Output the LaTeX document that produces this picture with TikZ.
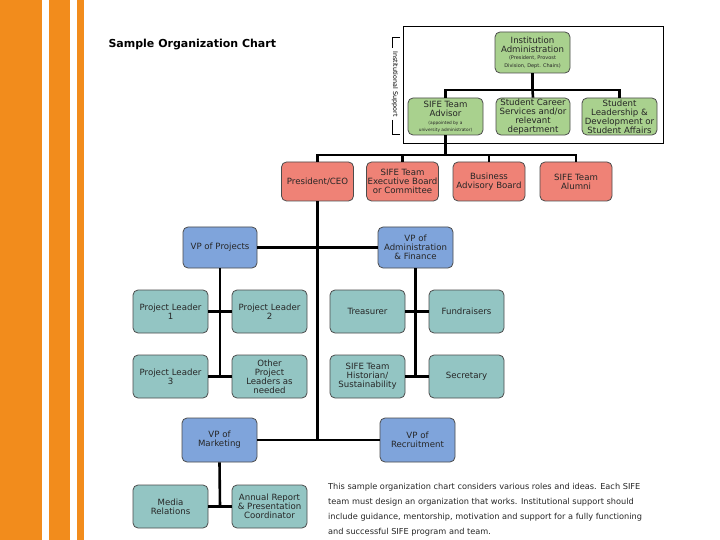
\documentclass[tikz,border=0pt]{standalone}
\usepackage{fontspec}
\setmainfont{DejaVu Sans}
\setsansfont{DejaVu Sans}
\begin{document}
\begin{tikzpicture}[x=1pt,y=-1pt,
  box/.style={draw=black!70,line width=0.8pt,rounded corners=5pt,align=center,
    inner sep=1pt,font=\fontsize{8.6}{8.9}\selectfont,text=black!85},
  gbox/.style={box,fill=grn},
  rbox/.style={box,fill=red1},
  bbox/.style={box,fill=blu},
  tbox/.style={box,fill=tea},
  conn/.style={line width=2.6pt,black}]
\definecolor{grn}{HTML}{A9D18E}
\definecolor{red1}{HTML}{EF8276}
\definecolor{blu}{HTML}{7FA4DB}
\definecolor{tea}{HTML}{93C5C3}
\definecolor{orn}{HTML}{F28C1C}
\useasboundingbox (0,0) rectangle (720,540);
\fill[white] (0,0) rectangle (720,540);
% orange stripes
\fill[orn] (0,0) rectangle (42,540);
\fill[orn] (49,0) rectangle (70,540);
\fill[orn] (77,0) rectangle (84,540);
% title
\node[anchor=west,font=\bfseries\fontsize{11}{12}\selectfont] (title) at (105,45) {Sample Organization Chart};
% institutional support frame
\draw[line width=0.8pt] (403,26) rectangle (663,143);
\node[rotate=-90,font=\fontsize{6.4}{7}\selectfont] (inst) at (395,84) {Institutional Support};
\draw[line width=1pt] (400,38) -- (392,38) -- (392,48);
\draw[line width=1pt] (392,120) -- (392,135) -- (400,135);
% green boxes
\node[gbox,minimum width=75,minimum height=41] (adm) at (532.5,52.5) {Institution\\Administration\\[-1pt]{\fontsize{5}{5}\selectfont (President, Provost}\\[-1.5pt]{\fontsize{5}{5}\selectfont Division, Dept. Chairs)}};
\node[gbox,minimum width=75,minimum height=37] (adv) at (445.5,116.5) {SIFE Team\\Advisor\\[-1pt]{\fontsize{4.3}{4.5}\selectfont (appointed by a}\\[-2pt]{\fontsize{4.3}{4.5}\selectfont university administrator)}};
\node[gbox,minimum width=74,minimum height=37] (car) at (533,116.5) {Student Career\\Services and/or\\relevant\\department};
\node[gbox,minimum width=75,minimum height=37] (lead) at (619.5,116.5) {Student\\Leadership \&\\Development or\\Student Affairs};
% red boxes
\node[rbox,minimum width=72,minimum height=39] (pres) at (317.5,181.5) {President/CEO};
\node[rbox,minimum width=72,minimum height=39] (exec) at (402.5,181.5) {SIFE Team\\Executive Board\\or Committee};
\node[rbox,minimum width=72,minimum height=39] (bus) at (489,181.5) {Business\\Advisory Board};
\node[rbox,minimum width=72,minimum height=39] (alum) at (576,181.5) {SIFE Team\\Alumni};
% blue boxes
\node[bbox,minimum width=74,minimum height=41] (vpp) at (220,247.5) {VP of Projects};
\node[bbox,minimum width=75,minimum height=41] (vpa) at (415.5,247.5) {VP of\\Administration\\\& Finance};
\node[bbox,minimum width=75,minimum height=44] (vpm) at (219.5,440) {VP of\\Marketing};
\node[bbox,minimum width=75,minimum height=44] (vpr) at (417.5,440) {VP of\\Recruitment};
% teal boxes
\node[tbox,minimum width=75,minimum height=43] (pl1) at (170.5,311.5) {Project Leader\\1};
\node[tbox,minimum width=75,minimum height=43] (pl2) at (269.5,311.5) {Project Leader\\2};
\node[tbox,minimum width=75,minimum height=43] (pl3) at (170.5,376.5) {Project Leader\\3};
\node[tbox,minimum width=75,minimum height=43] (oth) at (269.5,376.5) {Other\\Project\\Leaders as\\needed};
\node[tbox,minimum width=75,minimum height=43] (tre) at (367.5,311.5) {Treasurer};
\node[tbox,minimum width=75,minimum height=43] (fun) at (466.5,311.5) {Fundraisers};
\node[tbox,minimum width=75,minimum height=43] (his) at (367.5,376.5) {SIFE Team\\Historian/\\Sustainability};
\node[tbox,minimum width=75,minimum height=43] (sec) at (466.5,376.5) {Secretary};
\node[tbox,minimum width=75,minimum height=43] (med) at (170.5,506.5) {Media\\Relations};
\node[tbox,minimum width=75,minimum height=43] (ann) at (269.5,506.5) {Annual Report\\\& Presentation\\Coordinator};
% connectors: institutional
\coordinate (j1) at (532.5,90);
\draw[conn] (adm.south) -- (j1);
\draw[conn] (adv.north) |- (j1) -| (lead.north);
\draw[conn] (j1) -- (car.north);
% advisor to red row
\coordinate (j2) at (445.5,155);
\draw[conn] (adv.south) -- (j2);
\draw[conn] (pres.north) |- (j2) -| (alum.north);
\draw[conn] (exec.north) -- (exec.north |- j2);
\draw[conn] (bus.north) -- (bus.north |- j2);
% trunk
\coordinate (j3) at (317.5,440);
\draw[conn] (pres.south) -- (j3);
\draw[conn] (vpp.east) -- (vpa.west);
\draw[conn] (vpm.east) -- (vpr.west);
% projects
\coordinate (p2) at (220,376.5);
\draw[conn] (vpp.south) -- (p2);
\draw[conn] (pl1.east) -- (pl2.west);
\draw[conn] (pl3.east) -- (oth.west);
% admin
\coordinate (a2) at (415.5,376.5);
\draw[conn] (vpa.south) -- (a2);
\draw[conn] (tre.east) -- (fun.west);
\draw[conn] (his.east) -- (sec.west);
% marketing
\coordinate (m1) at (220,506.5);
\draw[conn] (vpm.south) -- (m1);
\draw[conn] (med.east) -- (ann.west);
% paragraph
\node[anchor=north west,align=left,inner sep=0pt,font=\fontsize{8.2}{15}\selectfont,text=black!85] (para) at (328,483) {This sample organization chart considers various roles and ideas. Each SIFE\\team must design an organization that works. Institutional support should\\include guidance, mentorship, motivation and support for a fully functioning\\and successful SIFE program and team.};
\end{tikzpicture}
\end{document}
